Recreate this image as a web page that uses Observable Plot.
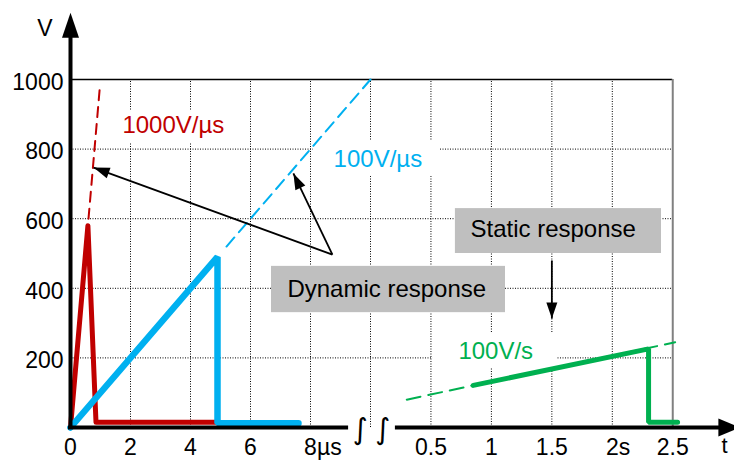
<!DOCTYPE html>
<html>
<head>
<meta charset="utf-8">
<script src="https://cdn.jsdelivr.net/npm/d3@7"></script>
<script src="https://cdn.jsdelivr.net/npm/@observablehq/plot@0.6"></script>
<style>
  html, body { margin: 0; padding: 0; background: #fff; }
  svg { display: block; }
</style>
</head>
<body>
<div id="chart"></div>
<script>
// ---------- data ----------
// fast edge, 1000 V/µs (time in µs)
const redTime = [0, 0.58, 0.85, 4.9];
const redVolt = [0, 580, 15, 15];
const redDashTime = [0.6, 0.98];
const redDashVolt = [600, 980];
// 100 V/µs (time in µs)
const blueTime = [0, 4.9, 4.9, 7.6];
const blueVolt = [0, 490, 12, 12];
const blueDashTime = [5.2, 10];
const blueDashVolt = [520, 1000];
// 100 V/s (time in s)
const greenTime = [0.85, 2.3, 2.3, 2.54];
const greenVolt = [121, 226, 15, 15];
const greenDashTime = [0.3, 2.52];
const greenDashVolt = [80, 245];

// ticks
const usTicks = [0, 2, 4, 6, 8];
const usTickLabels = ["0", "2", "4", "6", "8"];
const usTickUnits = ["", "", "", "", "µs"];
const sTicks = [0.5, 1, 1.5, 2, 2.5];
const sTickLabels = ["0.5", "1", "1.5", "2", "2.5"];
const sTickUnits = ["", "", "", "s", ""];
const yTicks = [200, 400, 600, 800, 1000];

// series labels
const seriesLabels = ["1000V/µs", "100V/µs", "100V/s"];
const noteLabels = ["Dynamic response", "Static response"];

// ---------- broken time axis: µs segment then s segment ----------
const US = t => t;               // µs → axis units
const SEC = t => 10 + 4.03 * t;  // s  → axis units (after the break)

// ---------- layout ----------
const W = 734, H = 461, mL = 70, mR = 4, mT = 79, mB = 34;
const xDom = [0, 22], yDom = [0, 1000];
const kx = (W - mL - mR) / (xDom[1] - xDom[0]);
const ky = (H - mT - mB) / (yDom[1] - yDom[0]);

const RED = "#C00000", BLUE = "#00B0F0", GREEN = "#00B050", GRAY = "#BFBFBF";
const FONT = "'Liberation Sans', Arial, Helvetica, sans-serif";

const pts = (ts, vs, f) => ts.map((t, i) => ({u: f(t), v: vs[i]}));

function head(len, wid, angleDeg) {
  const a = angleDeg * Math.PI / 180, c = Math.cos(a), s = Math.sin(a);
  const p = [[0, 0], [-wid / 2, len], [wid / 2, len]].map(([x, y]) => [x * c - y * s, x * s + y * c]);
  return {draw(ctx) { ctx.moveTo(p[0][0], p[0][1]); ctx.lineTo(p[1][0], p[1][1]); ctx.lineTo(p[2][0], p[2][1]); ctx.closePath(); }};
}
function angleOf(a) {
  const dx = (a.x2 - a.x1) * kx, dy = -(a.y2 - a.y1) * ky;
  return Math.atan2(dx, -dy) * 180 / Math.PI;
}

// annotation geometry (axis units / volts)
const dynArrows = [
  {x1: 8.73, y1: 497, x2: 0.77, y2: 747},
  {x1: 8.73, y1: 497, x2: 7.43, y2: 730}
];
const statArrows = [{x1: SEC(1.5), y1: 480, x2: SEC(1.5), y2: 313}];
const allArrows = dynArrows.concat(statArrows);

const whiteBoxes = [
  {x1: 1.33, x2: 5.53, y1: 816, y2: 908},
  {x1: 8.1, x2: 12.33, y1: 721, y2: 822},
  {x1: 12.07, x2: 16.23, y1: 170, y2: 270}
];
const grayBoxes = [
  {x1: 6.7, x2: 14.5, y1: 330, y2: 463},
  {x1: 12.83, x2: 19.7, y1: 500, y2: 629}
];
const seriesLabelPos = [
  {u: US(1.73), v: 868, c: RED},
  {u: US(8.77), v: 771, c: BLUE},
  {u: SEC(0.727), v: 218, c: GREEN}
];
const notePos = [{u: 7.23, v: 398}, {u: SEC(0.827), v: 569}];

const xRight = SEC(2.5);
const gridX = usTicks.filter(t => t > 0).map(US).concat([SEC(0)], sTicks.filter(t => t < 2.5).map(SEC));

const marks = [
  // grid
  Plot.ruleX(gridX, {y1: 0, y2: 1000, stroke: "#000", strokeWidth: 1, strokeDasharray: "1,1.5"}),
  Plot.ruleY(yTicks.filter(v => v < 1000), {x1: 0, x2: xRight, stroke: "#000", strokeWidth: 1, strokeDasharray: "1,1.5"}),
  // frame top / right
  Plot.ruleY([1000], {x1: 0, x2: xRight, stroke: "#000", strokeWidth: 1.5}),
  Plot.ruleX([xRight], {y1: 0, y2: 1000, stroke: "#808080", strokeWidth: 2}),
  // label backgrounds
  Plot.rect(whiteBoxes, {x1: "x1", x2: "x2", y1: "y1", y2: "y2", fill: "white"}),
  Plot.rect(grayBoxes, {x1: "x1", x2: "x2", y1: "y1", y2: "y2", fill: GRAY}),
  // dashed slope extensions
  Plot.line(pts(redDashTime, redDashVolt, US), {x: "u", y: "v", stroke: RED, strokeWidth: 2, strokeDasharray: "10,7"}),
  Plot.line(pts(blueDashTime, blueDashVolt, US), {x: "u", y: "v", stroke: BLUE, strokeWidth: 2, strokeDasharray: "12,7"}),
  Plot.line(pts(greenDashTime, greenDashVolt, SEC), {x: "u", y: "v", stroke: GREEN, strokeWidth: 2, strokeDasharray: "14,8"}),
  // responses
  Plot.line(pts(redTime, redVolt, US), {x: "u", y: "v", stroke: RED, strokeWidth: 5, strokeLinejoin: "round"}),
  Plot.line(pts(blueTime, blueVolt, US), {x: "u", y: "v", stroke: BLUE, strokeWidth: 6.5, strokeLinejoin: "miter", strokeLinecap: "round"}),
  Plot.line(pts(greenTime, greenVolt, SEC), {x: "u", y: "v", stroke: GREEN, strokeWidth: 5, strokeLinejoin: "miter"}),
  // series labels
  Plot.text(seriesLabelPos, {x: "u", y: "v", text: (d, i) => seriesLabels[i], fill: d => d.c, textAnchor: "start", fontSize: 24}),
  Plot.text(notePos, {x: "u", y: "v", text: (d, i) => noteLabels[i], fill: "#000", textAnchor: "start", fontSize: 24}),
  // annotation arrows
  Plot.link(allArrows, {x1: "x1", y1: "y1", x2: "x2", y2: "y2", stroke: "#000", strokeWidth: 1.8}),
  ...allArrows.map(a => Plot.dot([a], {x: "x2", y: "y2", symbol: head(16, 11, angleOf(a)), fill: "#000", stroke: "none"})),
  // axes
  Plot.ruleX([0], {y1: -6, y2: 1125, stroke: "#000", strokeWidth: 4}),
  Plot.dot([{u: 0, v: 1192}], {x: "u", y: "v", symbol: head(25, 17, 0), fill: "#000", stroke: "none"}),
  Plot.ruleY([0], {x1: -0.07, x2: 9.27, stroke: "#000", strokeWidth: 4}),
  Plot.ruleY([0], {x1: 10.83, x2: 21.7, stroke: "#000", strokeWidth: 4}),
  Plot.dot([{u: 22.33, v: 0}], {x: "u", y: "v", symbol: head(22, 18, 90), fill: "#000", stroke: "none"}),
  Plot.text([{u: 9.65, v: 0}, {u: 10.4, v: 0}], {x: "u", y: "v", text: () => "∫", fontSize: 29, fontFamily: "DejaVu Sans", fill: "#000", dy: 2}),
  // tick labels
  Plot.text(yTicks, {x: 0, y: d => d, text: d => String(d), textAnchor: "end", dx: -7, dy: 3, fontSize: 23, fill: "#000"}),
  Plot.text(usTicks, {x: US, y: 0, text: (d, i) => usTickLabels[i], dy: 20, fontSize: 23, fill: "#000"}),
  Plot.text(usTicks, {x: US, y: 0, text: (d, i) => usTickUnits[i], textAnchor: "start", dx: 6.4, dy: 20, fontSize: 23, fill: "#000"}),
  Plot.text(sTicks, {x: SEC, y: 0, text: (d, i) => sTickLabels[i], dy: 20, fontSize: 23, fill: "#000"}),
  Plot.text(sTicks, {x: SEC, y: 0, text: (d, i) => sTickUnits[i], textAnchor: "start", dx: 6.4, dy: 20, fontSize: 23, fill: "#000"}),
  // axis names
  Plot.text([{u: -0.85, v: 1146}], {x: "u", y: "v", text: () => "V", fontSize: 23, fill: "#000"}),
  Plot.text([{u: 21.8, v: -52}], {x: "u", y: "v", text: () => "t", fontSize: 22, fill: "#000"})
];

const chart = Plot.plot({
  width: W, height: H,
  marginLeft: mL, marginRight: mR, marginTop: mT, marginBottom: mB,
  x: {domain: xDom, axis: null},
  y: {domain: yDom, axis: null},
  style: {fontFamily: FONT, background: "white", overflow: "visible"},
  marks
});
document.getElementById("chart").append(chart);
</script>
</body>
</html>
